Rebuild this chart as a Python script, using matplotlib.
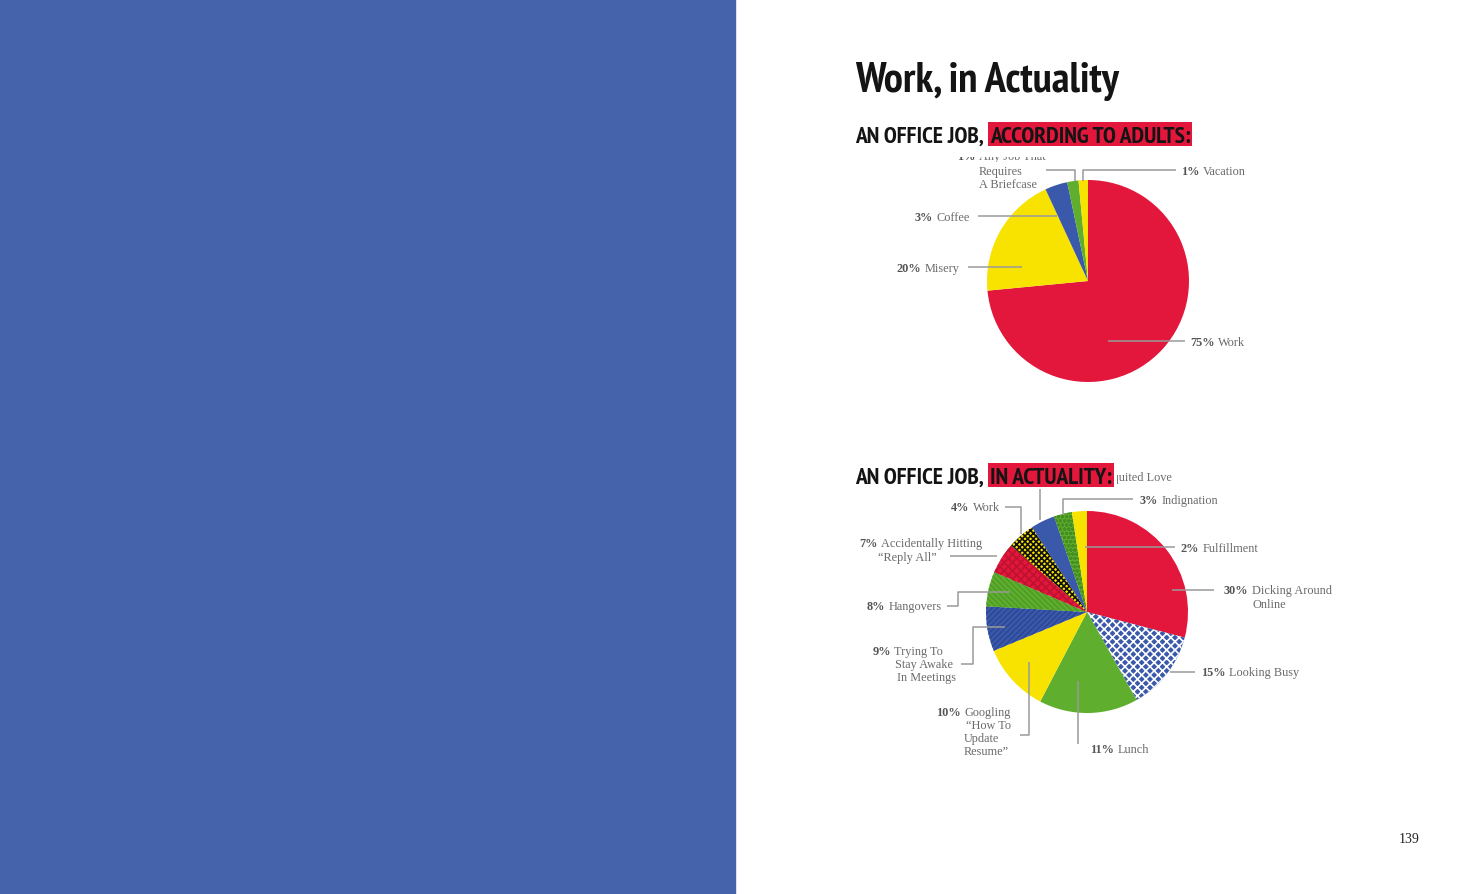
import matplotlib
matplotlib.use('Agg')
import matplotlib.pyplot as plt
from matplotlib import font_manager as fm
from matplotlib.font_manager import FontProperties
from matplotlib.patches import Rectangle
from matplotlib.textpath import TextPath
from matplotlib.transforms import Bbox

W, H = 1470, 895

# ---------------- data ----------------
title_text = 'Work, in Actuality'
top_heading = ('AN OFFICE JOB,', 'ACCORDING TO ADULTS:')
bottom_heading = ('AN OFFICE JOB,', 'IN ACTUALITY:')
page_number = '139'

top_categories = ['Work', 'Misery', 'Any Job That\nRequires\nA Briefcase', 'Coffee', 'Vacation']
top_pcts = ['75%', '20%', '1%', '3%', '1%']
top_shares = [73.4, 19.6, 3.6, 1.8, 1.5]

bottom_categories = ['Dicking Around\nOnline', 'Looking Busy', 'Lunch',
                     'Googling\n\u201cHow To\nUpdate\nResume\u201d',
                     'Trying To\nStay Awake\nIn Meetings', 'Hangovers',
                     'Accidentally Hitting\n\u201cReply All\u201d', 'Work',
                     'Unrequited Love', 'Indignation', 'Fulfillment']
bottom_pcts = ['30%', '15%', '11%', '10%', '9%', '8%', '7%', '4%', '5%', '3%', '2%']
bottom_shares = [29.2, 12.8, 15.9, 11.1, 7.2, 5.6, 5.0, 4.4, 3.9, 2.9, 2.4]

# ---------------- styles ----------------
RED = '#E3163B'
YEL = '#F8E300'
BLUE = '#3B59AA'
GRN = '#5FAE2E'
PANEL = '#4563AA'

top_colors = [RED, YEL, BLUE, GRN, YEL]
bottom_colors = [RED, BLUE, GRN, YEL, BLUE, GRN, RED, YEL, BLUE, GRN, YEL]
bottom_hatches = ['', 'xxxx', '', '', '//////', '\\\\\\\\\\\\', 'xxxx', 'xxxxxx', '', 'oooo', '']
bottom_hatch_colors = [None, 'white', None, None, '#2C4795', '#4E9B26', '#BE1231',
                       '#111111', None, '#458F22', None]

plt.rcParams['hatch.linewidth'] = 1.2

# label layouts (reference pixel positions, y measured from top)
top_layout = [
    dict(lines=[(1190, 342, 'left')], leader=[(1108, 342), (1185, 342)]),
    dict(lines=[(960, 268, 'right')], leader=[(968, 268), (1022, 268)]),
    dict(lines=[(957, 156, 'left'), (979, 171, 'left'), (979, 184, 'left')],
         leader=[(1046, 171), (1075, 171), (1075, 182)], clip_first=True),
    dict(lines=[(970, 217, 'right')], leader=[(978, 217), (1057, 217)]),
    dict(lines=[(1181, 171, 'left')], leader=[(1083, 182), (1083, 171), (1176, 171)]),
]
bottom_layout = [
    dict(lines=[(1278, 590, 'center'), (1269, 604, 'center')], leader=[(1172, 591), (1214, 591)]),
    dict(lines=[(1201, 672, 'left')], leader=[(1170, 673), (1195, 673)]),
    dict(lines=[(1090, 749, 'left')], leader=[(1078, 682), (1078, 745)]),
    dict(lines=[(936, 712, 'left'), (966, 725, 'left'), (964, 738, 'left'), (964, 751, 'left')],
         leader=[(1020, 736), (1029, 736), (1029, 663)]),
    dict(lines=[(943, 651, 'right'), (953, 664, 'right'), (956, 677, 'right')],
         leader=[(961, 665), (973, 665), (973, 628), (1005, 628)]),
    dict(lines=[(942, 606, 'right')], leader=[(947, 607), (958, 607), (958, 593), (1010, 593)]),
    dict(lines=[(921, 543, 'center'), (907, 557, 'center')], leader=[(950, 557), (997, 557)]),
    dict(lines=[(1000, 507, 'right')], leader=[(1005, 508), (1021, 508), (1021, 535)]),
    dict(lines=[(1172, 477, 'right')], leader=[(1040, 490), (1040, 521)], clip_left=1117),
    dict(lines=[(1140, 500, 'left')], leader=[(1063, 516), (1063, 500), (1133, 500)]),
    dict(lines=[(1181, 548, 'left')], leader=[(1085, 548), (1175, 548)]),
]


# ---------------- fonts ----------------
def _weight(w):
    try:
        return int(w)
    except Exception:
        return {'ultralight': 200, 'light': 300, 'normal': 400, 'regular': 400,
                'book': 400, 'medium': 500, 'semibold': 600, 'demibold': 600,
                'demi': 600, 'bold': 700, 'extra bold': 800, 'heavy': 800,
                'black': 900}.get(str(w).lower(), 400)


def pick_title_font(sample, target_ratio):
    best = None
    seen = set()
    for f in fm.fontManager.ttflist:
        n = f.name
        if any(k in n for k in ('CJK', 'Mono', 'Serif', 'Math')):
            continue
        if str(f.style).lower() != 'normal':
            continue
        if _weight(f.weight) < 600:
            continue
        if f.fname in seen:
            continue
        seen.add(f.fname)
        try:
            fp = FontProperties(fname=f.fname)
            wpath = TextPath((0, 0), sample, prop=fp, size=100).get_extents().width
            cap = TextPath((0, 0), 'H', prop=fp, size=100).get_extents().height
        except Exception:
            continue
        if cap <= 0:
            continue
        score = abs(wpath / cap - target_ratio)
        if best is None or score < best[0]:
            best = (score, fp)
    if best is None:
        return FontProperties(family='DejaVu Sans', weight='bold')
    return best[1]


def fit_size(fp, s, cap_px, width_px):
    wpath = TextPath((0, 0), s, prop=fp, size=100).get_extents().width
    cap = TextPath((0, 0), 'H', prop=fp, size=100).get_extents().height
    s_cap = cap_px * 72.0 / cap
    s_w = width_px * 72.0 / wpath
    size = (s_cap * s_w) ** 0.5
    return size, cap * size / 72.0


cond = pick_title_font(title_text, 263 / 30.0)
lab = FontProperties(family=['Liberation Serif', 'DejaVu Serif'], size=8.8)
lab_b = FontProperties(family=['Liberation Serif', 'DejaVu Serif'], size=8.8, weight='bold')

# ---------------- figure ----------------
fig = plt.figure(figsize=(W / 100, H / 100), dpi=100)
fig.patch.set_facecolor('white')
ax = fig.add_axes([0, 0, 1, 1])
renderer = fig.canvas.get_renderer()

ax.add_patch(Rectangle((0, 0), 735, H, color=PANEL, zorder=0))

# pies
w_top, _ = ax.pie(top_shares, colors=top_colors, startangle=90, counterclock=False,
                  center=(1088, H - 282), radius=101, wedgeprops=dict(linewidth=0))
w_bot, _ = ax.pie(bottom_shares, colors=bottom_colors, startangle=90, counterclock=False,
                  center=(1087, H - 613), radius=101, wedgeprops=dict(linewidth=0))
for w, h, hc in zip(w_bot, bottom_hatches, bottom_hatch_colors):
    if h:
        w.set_hatch(h)
        w.set_edgecolor(hc)
        w.set_linewidth(0)

ax.set_xlim(0, W)
ax.set_ylim(0, H)
ax.set_aspect('auto')
ax.axis('off')


def measure(s, fp):
    t = ax.text(0, 0, s, fontproperties=fp)
    w = t.get_window_extent(renderer).width
    t.remove()
    return w


GAP = 3.5


def draw_line(x, y, pct, txt, ha, z=3, clip=None):
    base = H - y - 4
    wp = measure(pct, lab_b) if pct else 0
    wt = measure(txt, lab)
    gap = GAP if pct else 0
    total = wp + gap + wt
    x0 = x if ha == 'left' else (x - total if ha == 'right' else x - total / 2)
    arts = []
    if pct:
        arts.append(ax.text(x0, base, pct, fontproperties=lab_b, color='#555555',
                            va='baseline', ha='left', zorder=z))
    arts.append(ax.text(x0 + wp + gap, base, txt, fontproperties=lab, color='#6a6a6a',
                        va='baseline', ha='left', zorder=z))
    if clip is not None:
        for a in arts:
            a.set_clip_box(clip)
            a.set_clip_on(True)


def draw_labels(cats, pcts, layout):
    for cat, pct, lay in zip(cats, pcts, layout):
        parts = cat.split('\n')
        for i, (part, (x, y, ha)) in enumerate(zip(parts, lay['lines'])):
            clip = None
            if i == 0 and lay.get('clip_first'):
                clip = Bbox([[800, H - 163], [1200, H - 157.5]])
            if lay.get('clip_left'):
                clip = Bbox([[lay['clip_left'], 0], [W, H]])
            draw_line(x, y, pct if i == 0 else '', part, ha, clip=clip)
        xs = [p[0] for p in lay['leader']]
        ys = [H - p[1] for p in lay['leader']]
        ax.plot(xs, ys, color='#9a9a9a', lw=1.1, zorder=3, solid_capstyle='butt')


draw_labels(top_categories, top_pcts, top_layout)
draw_labels(bottom_categories, bottom_pcts, bottom_layout)

# title
t_size, _ = fit_size(cond, title_text, 30, 263)
ax.text(855, H - 92, title_text, fontproperties=cond, fontsize=t_size,
        color='#141414', va='baseline', ha='left', zorder=6)

# headings
h_size, h_cap = fit_size(cond, ' '.join(top_heading), 16, 342)


def heading(base_y, plain, hl):
    t1 = ax.text(855, H - base_y, plain, fontproperties=cond, fontsize=h_size,
                 color='#141414', va='baseline', ha='left', zorder=6)
    bb = t1.get_window_extent(renderer)
    t2 = ax.text(bb.x1 + 6, H - base_y, hl, fontproperties=cond, fontsize=h_size,
                 color='#141414', va='baseline', ha='left', zorder=6)
    bb2 = t2.get_window_extent(renderer)
    ax.add_patch(Rectangle((bb2.x0 - 2, H - base_y - 4), bb2.width + 4, h_cap + 8,
                           color=RED, zorder=5, linewidth=0))


heading(143, *top_heading)
heading(484, *bottom_heading)

ax.text(1409, H - 840, page_number, ha='center', va='center', color='#222222',
        fontproperties=FontProperties(family=['Liberation Serif', 'DejaVu Serif'], size=10))

fig.savefig('out.png', dpi=100)
